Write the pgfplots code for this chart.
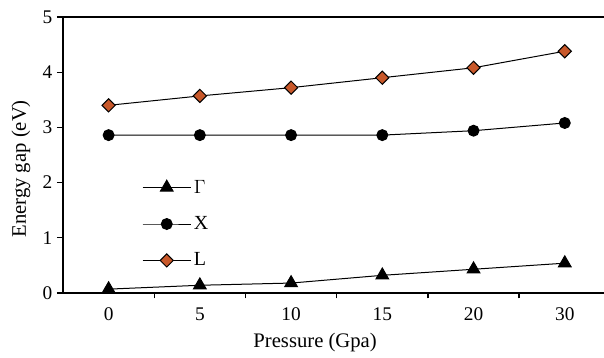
\documentclass[border=0pt]{standalone}
\usepackage{pgfplots}
\pgfplotsset{compat=1.18}
\usepackage{fontspec}
\setmainfont{Liberation Serif}
\definecolor{lorange}{RGB}{200,88,42}
\begin{document}
\begin{tikzpicture}
\begin{axis}[
  scale only axis,
  width=405.75pt, height=207pt,
  xmin=-0.5, xmax=5.43,
  ymin=0, ymax=5,
  clip=false,
  axis x line*=bottom, axis y line*=left,
  axis line style={black, line width=1pt},
  xtick={0,1,2,3,4,5},
  xticklabels={0,5,10,15,20,30},
  minor xtick={0.5,1.5,2.5,3.5,4.5},
  major tick length=4.5pt, minor tick length=4pt,
  major x tick style={draw=none},
  minor x tick style={black, line width=1pt},
  ytick={0,1,2,3,4,5},
  y tick style={black, line width=1pt},
  tick align=outside,
  /pgf/number format/assume math mode=true,
  tick label style={font=\fontsize{14.5}{16}\selectfont},
  xticklabel style={yshift=-3pt},
  xlabel={Pressure (Gpa)},
  ylabel={Energy gap (eV)},
  every axis x label/.style={at={(axis description cs:0.466,0)}, anchor=center, yshift=-37pt, font=\fontsize{15.5}{17}\selectfont},
  every axis y label/.style={at={(axis description cs:0,0.45)}, rotate=90, anchor=center, yshift=31.5pt, font=\fontsize{15.5}{17}\selectfont},
  legend style={draw=none, fill=none, inner sep=0pt, at={(axis description cs:0.146,0.42)}, anchor=north west,
    row sep=12pt, font=\fontsize{15}{17}\selectfont},
  legend cell align=left,
  legend image code/.code={\draw[mark repeat=2, mark phase=2] plot coordinates {(0pt,0pt) (18pt,0pt) (36pt,0pt)};},
]
\draw[black, line width=1pt] (rel axis cs:0,1) -- (rel axis cs:1,1);
\addplot[black, line width=0.75pt, mark=triangle*, mark size=5.5pt, mark options={fill=black}]
  coordinates {(0,0.07) (1,0.14) (2,0.18) (3,0.32) (4,0.43) (5,0.54)};
\addlegendentry{$\Gamma$}
\addplot[black, line width=0.75pt, mark=*, mark size=4.1pt, mark options={fill=black}]
  coordinates {(0,2.86) (1,2.86) (2,2.86) (3,2.86) (4,2.94) (5,3.08)};
\addlegendentry{X}
\addplot[black, line width=0.75pt, mark=square*, mark size=3.5pt, mark options={fill=lorange, draw=black, line width=0.75pt, rotate=45}]
  coordinates {(0,3.40) (1,3.57) (2,3.72) (3,3.90) (4,4.08) (5,4.38)};
\addlegendentry{L}
\end{axis}
\pgfresetboundingbox
\path ([shift={(-47.25pt,-48.75pt)}]current axis.south west) rectangle ([shift={(0pt,12.75pt)}]current axis.north east);
\end{tikzpicture}
\end{document}
